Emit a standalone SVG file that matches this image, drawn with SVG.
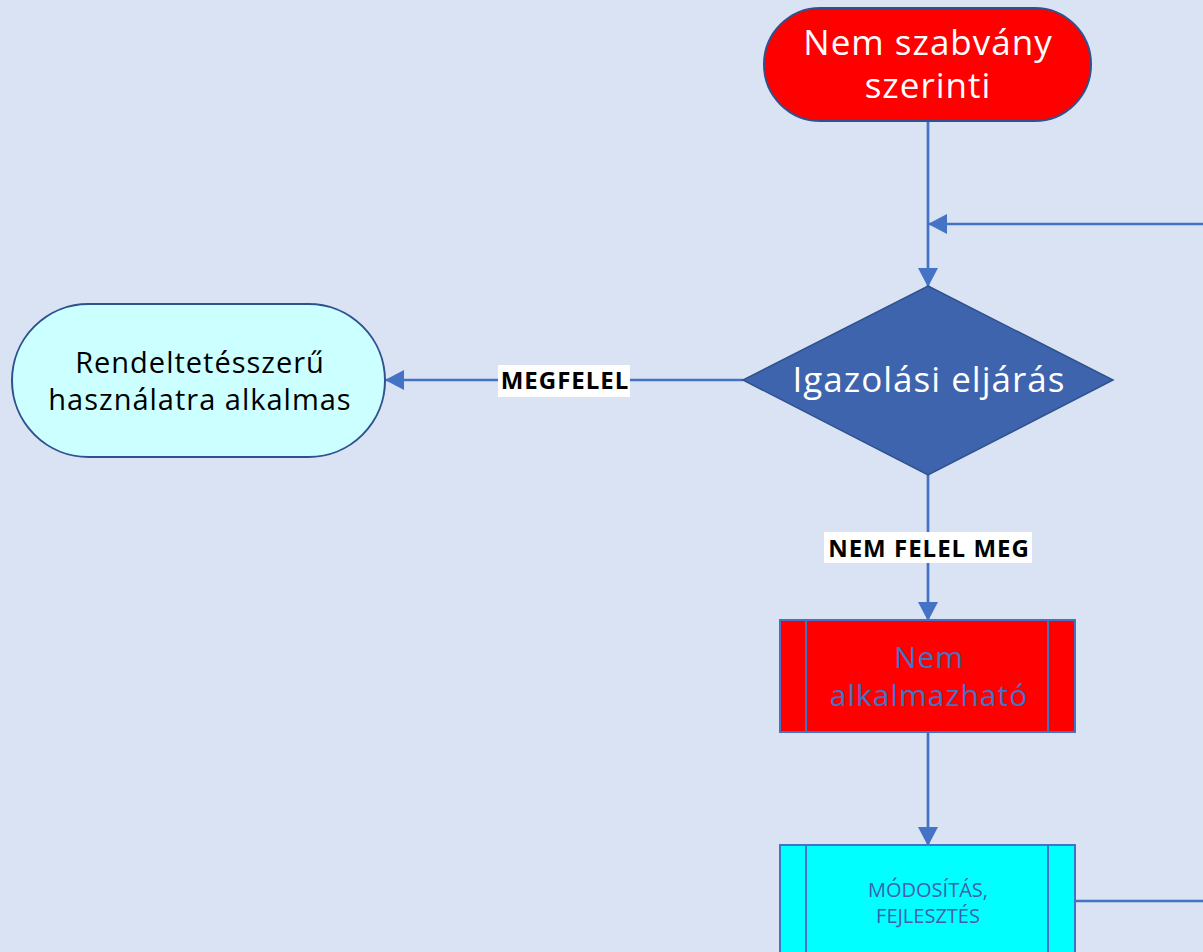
<svg xmlns="http://www.w3.org/2000/svg" width="1203" height="952" viewBox="0 0 1203 952">
<style>
.conn{stroke:#4472C4;stroke-width:2.7;fill:none}
.nodeStroke{stroke:#2F528F;stroke-width:2}
.t{font-family:"Open Sans","Noto Sans","Liberation Sans",sans-serif;text-anchor:middle}
.lbl{font-family:"Open Sans","Noto Sans","Liberation Sans",sans-serif;font-weight:bold;font-size:24px;letter-spacing:1px;text-anchor:middle;fill:#000}
</style>
<defs>
<marker id="arr" markerWidth="19" markerHeight="20" refX="18" refY="10" orient="auto" markerUnits="userSpaceOnUse">
<path d="M0,0 L19,10 L0,20 Z" fill="#4472C4"/>
</marker>
</defs>
<rect width="1203" height="952" fill="#DAE3F3"/>
<g id="connectors">
<line class="conn" x1="928" y1="121" x2="928" y2="286" marker-end="url(#arr)"/>
<line class="conn" x1="1203" y1="224" x2="929" y2="224" marker-end="url(#arr)"/>
<line class="conn" x1="743" y1="380" x2="386" y2="380" marker-end="url(#arr)"/>
<line class="conn" x1="928" y1="475" x2="928" y2="620" marker-end="url(#arr)"/>
<line class="conn" x1="928" y1="732" x2="928" y2="845" marker-end="url(#arr)"/>
<line class="conn" x1="1075" y1="901" x2="1203" y2="901"/>
<g id="label-megfelel">
<rect x="498" y="365" width="132" height="32" fill="#FFFFFF"/>
<text class="lbl" x="565" y="389">MEGFELEL</text>
</g>
<g id="label-nemfelelmeg">
<rect x="824" y="532" width="208" height="31" fill="#FFFFFF"/>
<text class="lbl" x="929" y="557">NEM FELEL MEG</text>
</g>
</g>
<g id="node-start">
<rect class="nodeStroke" x="764" y="8" width="327" height="113" rx="56.5" ry="56.5" fill="#FF0000"/>
<text class="t" x="928" y="55" font-size="35" letter-spacing="1" fill="#FFFFFF">Nem szabvány</text>
<text class="t" x="928" y="98" font-size="35" letter-spacing="1" fill="#FFFFFF">szerinti</text>
</g>
<g id="node-decision">
<polygon points="928,286 1113,380 928,475 743,380" fill="#3D64AC" stroke="#2F528F" stroke-width="1.5"/>
<text class="t" x="929" y="392" font-size="35" letter-spacing="1" fill="#FFFFFF">Igazolási eljárás</text>
</g>
<g id="node-ok">
<rect class="nodeStroke" x="12" y="304" width="373" height="153" rx="76.5" ry="76.5" fill="#CCFFFF"/>
<text class="t" x="200" y="373" font-size="29" letter-spacing="1" fill="#000000">Rendeltetésszerű</text>
<text class="t" x="200" y="410" font-size="29" letter-spacing="1" fill="#000000">használatra alkalmas</text>
</g>
<g id="node-notapplicable">
<rect x="780" y="620" width="295" height="112" fill="#FF0000" stroke="#4472C4" stroke-width="2"/>
<line x1="806" y1="620" x2="806" y2="732" stroke="#4472C4" stroke-width="2"/>
<line x1="1048" y1="620" x2="1048" y2="732" stroke="#4472C4" stroke-width="2"/>
<text class="t" x="929" y="668" font-size="30" letter-spacing="1" fill="#4472C4">Nem</text>
<text class="t" x="929" y="706" font-size="30" letter-spacing="1" fill="#4472C4">alkalmazható</text>
</g>
<g id="node-modify">
<rect x="780" y="845" width="295" height="120" fill="#00FFFF" stroke="#4472C4" stroke-width="2"/>
<line x1="806" y1="845" x2="806" y2="965" stroke="#4472C4" stroke-width="2"/>
<line x1="1048" y1="845" x2="1048" y2="965" stroke="#4472C4" stroke-width="2"/>
<text class="t" x="928" y="897" font-size="20" fill="#3F5FB0">MÓDOSÍTÁS,</text>
<text class="t" x="928" y="923" font-size="20" fill="#3F5FB0">FEJLESZTÉS</text>
</g>
</svg>
